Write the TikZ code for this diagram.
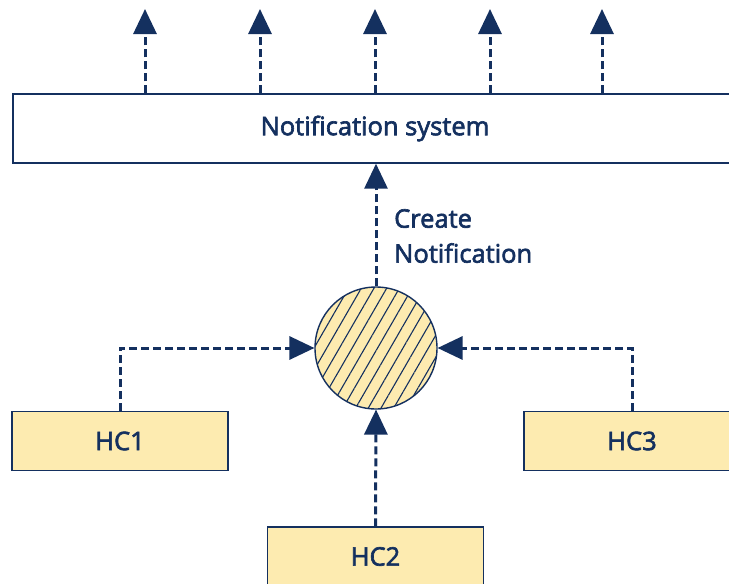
\documentclass[tikz,border=0pt]{standalone}
\usepackage{fontspec}
\setmainfont{Open Sans}
\newfontfamily\labfont{Open Sans}[FakeBold=2.5]
\usetikzlibrary{arrows.meta,patterns.meta}
\definecolor{navy}{HTML}{14305F}
\definecolor{sand}{HTML}{FDEBB0}
\tikzset{
  lab/.style={text=navy, font=\fontsize{25.5}{35}\labfont},
  box/.style={draw=navy, line width=1.4pt, rectangle, inner sep=0pt, lab},
  hcbox/.style={box, fill=sand, minimum width=216pt, minimum height=59pt},
  flow/.style={draw=navy, line width=3pt, dash pattern=on 8pt off 4pt,
    -{Triangle[length=25pt,width=23pt]}},
  hub/.style={circle, draw=navy, line width=1.4pt, minimum size=122pt, inner sep=0pt,
    preaction={fill=sand},
    pattern={Lines[angle=60,distance=11pt,line width=1.1pt]}, pattern color=navy}
}
\begin{document}
\begin{tikzpicture}[x=1pt,y=-1pt]
\useasboundingbox (0,0) rectangle (729,584);
% notification system
\node[box, minimum width=724pt, minimum height=69pt] (notif) at (375,128.5) {Notification system};
% outgoing notifications
\foreach \i/\x in {1/145,2/260,3/375,4/490,5/602}{
  \coordinate (o\i) at (\x,9);
  \draw[flow] (o\i |- notif.north) -- (o\i);
}
% central hub
\node[hub] (hub) at (376,348) {};
\draw[flow] (hub.north) -- (hub.north |- notif.south);
\node[anchor=north west, align=left, lab, inner sep=0pt] (lbl) at (394,209) {Create\\Notification};
% health checks
\node[hcbox] (hc1) at (120,441) {HC1};
\node[hcbox] (hc2) at (375.5,556.5) {HC2};
\node[hcbox] (hc3) at (632,441) {HC3};
\draw[flow] (hc1.north) |- (hub.west);
\draw[flow] (hc3.north) |- (hub.east);
\draw[flow] (hc2.north) -- (hub.south);
\end{tikzpicture}
\end{document}
